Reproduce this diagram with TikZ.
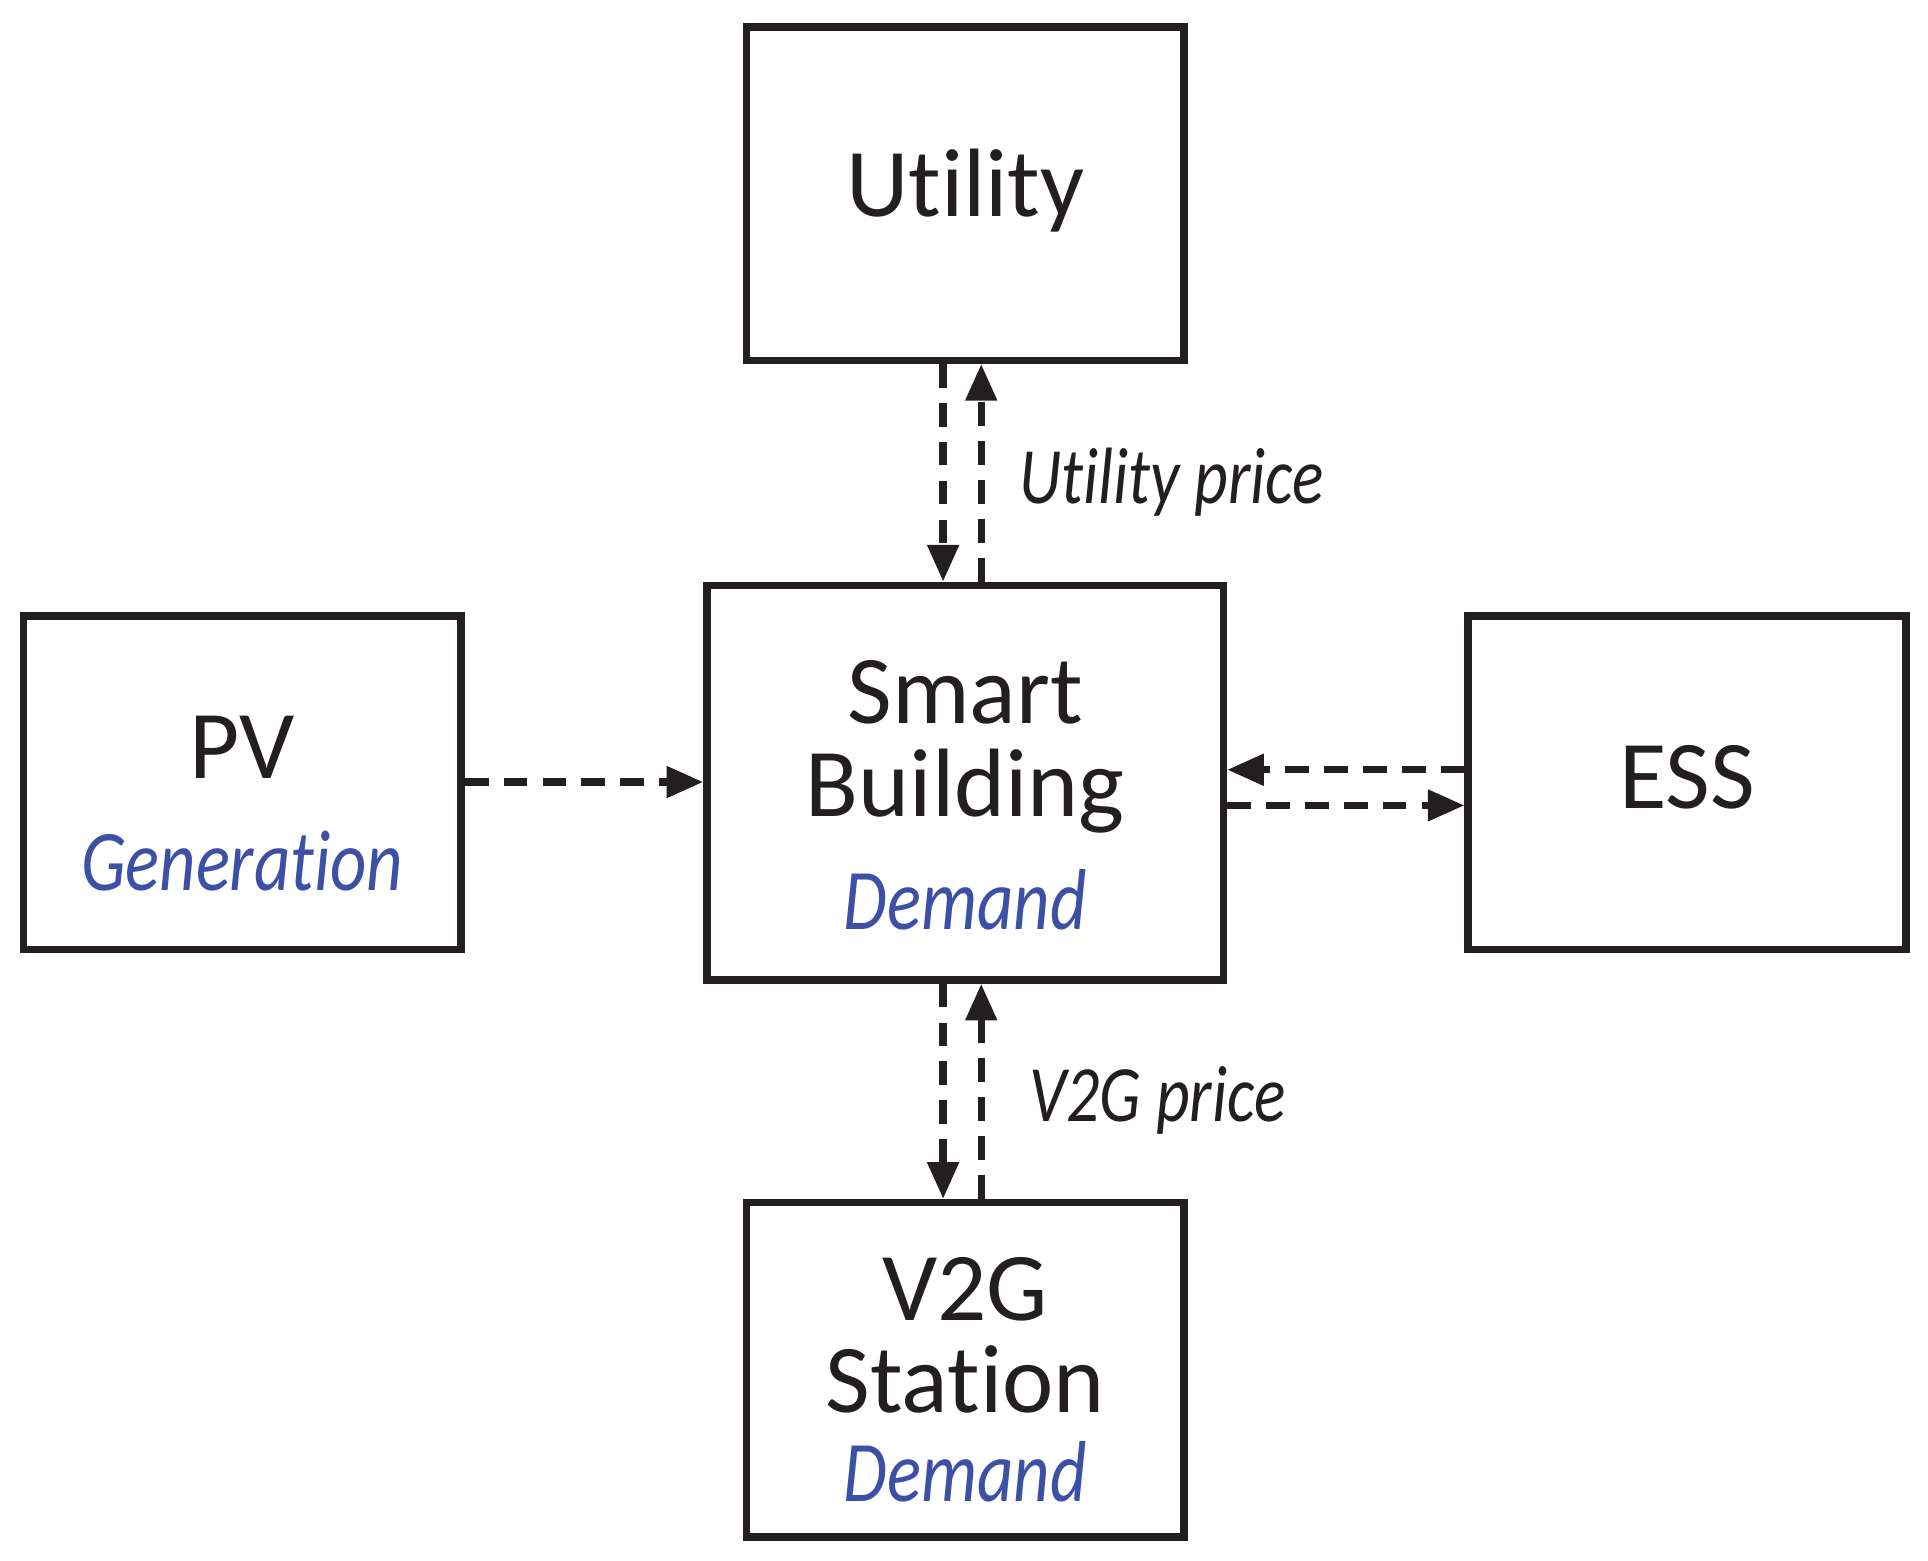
\documentclass[tikz,border=0pt]{standalone}
\usepackage{fontspec}
\setmainfont{Carlito}[Ligatures=NoCommon]
\usetikzlibrary{arrows.meta}
\definecolor{dblue}{RGB}{60,80,165}
\definecolor{ink}{RGB}{35,31,32}
\newcommand{\nar}[1]{\scalebox{0.82}[1]{#1}}
\begin{document}
\begin{tikzpicture}[x=0.02cm,y=-0.02cm,
  box/.style={draw=ink,line width=3.4pt,inner sep=0pt},
  big/.style={font=\fontsize{45}{43}\selectfont,text=ink,align=center},
  sub/.style={font=\fontsize{40}{40}\selectfont\itshape,text=dblue},
  lab/.style={font=\fontsize{37}{37}\selectfont\itshape,text=ink,anchor=west},
  flow/.style={draw=ink,line width=3.4pt,dash pattern=on 11pt off 7pt,-{Triangle[length=17pt,width=14pt]}}]
\useasboundingbox (0,0) rectangle (1568,1269);
\node[box,minimum width=356*0.02cm,minimum height=271*0.02cm] (U) at (785,157.5) {};
\node[box,minimum width=420*0.02cm,minimum height=321*0.02cm] (S) at (785,636.5) {};
\node[box,minimum width=356*0.02cm,minimum height=271*0.02cm] (P) at (197,636.5) {};
\node[box,minimum width=356*0.02cm,minimum height=271*0.02cm] (E) at (1372,636.5) {};
\node[box,minimum width=356*0.02cm,minimum height=272*0.02cm] (V) at (785,1114) {};
\node[big] (tU) at (785,155) {Utility};
\node[big] (tS) at (785,607) {Smart\\Building};
\node[sub] (dS) at (785,732) {\nar{Demand}};
\node[big] (tP) at (197,608) {PV};
\node[sub] (dP) at (197,700) {\nar{Generation}};
\node[big] (tE) at (1372,632) {ESS};
\node[big] (tV) at (785,1086) {V2G\\Station};
\node[sub] (dV) at (785,1197) {\nar{Demand}};
\node[lab] (lu) at (823,392) {\nar{Utility price}};
\node[lab] (lv) at (831,895) {\nar{V2G price}};
\draw[flow] (U.south -| 767,0) -- (S.north -| 767,0);
\draw[flow] (S.north -| 798,0) -- (U.south -| 798,0);
\draw[flow] (S.south -| 767,0) -- (V.north -| 767,0);
\draw[flow] (V.north -| 798,0) -- (S.south -| 798,0);
\draw[flow] (P.east |- 0,636) -- (S.west |- 0,636);
\draw[flow] (E.west |- 0,626) -- (S.east |- 0,626);
\draw[flow] (S.east |- 0,655) -- (E.west |- 0,655);
\end{tikzpicture}
\end{document}
